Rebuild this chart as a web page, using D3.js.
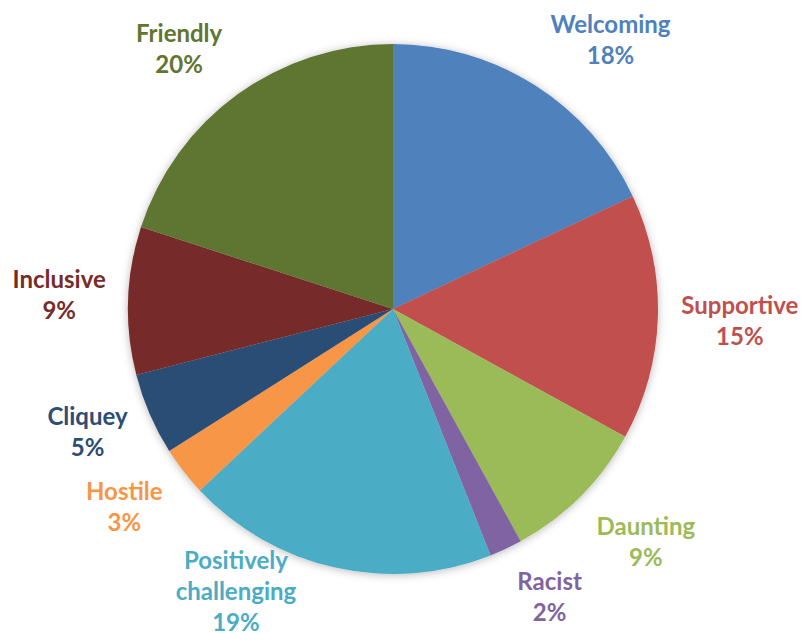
<!DOCTYPE html>
<html>
<head>
<meta charset="utf-8">
<script src="https://cdn.jsdelivr.net/npm/d3@7"></script>
<style>
  html, body { margin: 0; padding: 0; background: #ffffff; }
  svg { display: block; }
  .lbl { font-family: Lato, "Open Sans", sans-serif; font-weight: 700; font-size: 24px; }
</style>
</head>
<body>
<svg id="chart" width="801" height="634"></svg>
<script>
// Survey responses: how members describe the community (percent of answers)
const categories = ["Welcoming", "Supportive", "Daunting", "Racist", "Positively challenging",
                    "Hostile", "Cliquey", "Inclusive", "Friendly"];
const values = [18, 15, 9, 2, 19, 3, 5, 9, 20];
const colors = ["#4F81BD", "#C0504D", "#9BBB59", "#8064A2", "#4BACC6",
                "#F79646", "#2C4D75", "#772C2A", "#5F7530"];
// Label text split over lines
const labelLines = [["Welcoming"], ["Supportive"], ["Daunting"], ["Racist"], ["Positively", "challenging"],
                    ["Hostile"], ["Cliquey"], ["Inclusive"], ["Friendly"]];

const width = 801, height = 634;
const cx = 393, cy = 309, radius = 265;
const labelRadius = 335, lineHeight = 31;

// Per-label nudges (px) applied after polar placement, to keep labels clear of the pie and canvas edge
const labelNudge = {
  "Welcoming": [38, 12], "Supportive": [12, 0], "Daunting": [16, -5], "Racist": [14, -17],
  "Positively challenging": [-84, -46], "Hostile": [-4, -9], "Cliquey": [2, -12],
  "Inclusive": [1, -5], "Friendly": [-17, 10]
};

const data = categories.map((c, i) => ({ name: c, value: values[i], color: colors[i], lines: labelLines[i] }));

const svg = d3.select("#chart");
const defs = svg.append("defs");
const f = defs.append("filter").attr("id", "soft").attr("x", "-10%").attr("y", "-10%")
  .attr("width", "120%").attr("height", "120%");
f.append("feDropShadow").attr("dx", 0).attr("dy", 1).attr("stdDeviation", 4)
  .attr("flood-color", "#000").attr("flood-opacity", 0.28);

const pie = d3.pie().value(d => d.value).sort(null);
const arc = d3.arc().innerRadius(0).outerRadius(radius);
const arcs = pie(data);

const g = svg.append("g").attr("transform", `translate(${cx},${cy})`);
const slices = g.append("g").attr("filter", "url(#soft)");
slices.selectAll("path").data(arcs).join("path")
  .attr("d", arc)
  .attr("fill", d => d.data.color);

const labels = g.append("g");
arcs.forEach(a => {
  const mid = (a.startAngle + a.endAngle) / 2;
  const nudge = labelNudge[a.data.name] || [0, 0];
  const x = Math.sin(mid) * labelRadius + nudge[0];
  const y = -Math.cos(mid) * labelRadius + nudge[1];
  const lines = a.data.lines.concat([d3.format(".0%")(a.data.value / 100)]);
  const t = labels.append("text").attr("class", "lbl")
    .attr("fill", a.data.color)
    .attr("text-anchor", "middle")
    .attr("x", x)
    .attr("y", y - (lines.length - 1) * lineHeight / 2)
    .attr("dominant-baseline", "central");
  lines.forEach((ln, i) => {
    t.append("tspan").attr("x", x).attr("dy", i === 0 ? 0 : lineHeight).text(ln);
  });
});
</script>
</body>
</html>
